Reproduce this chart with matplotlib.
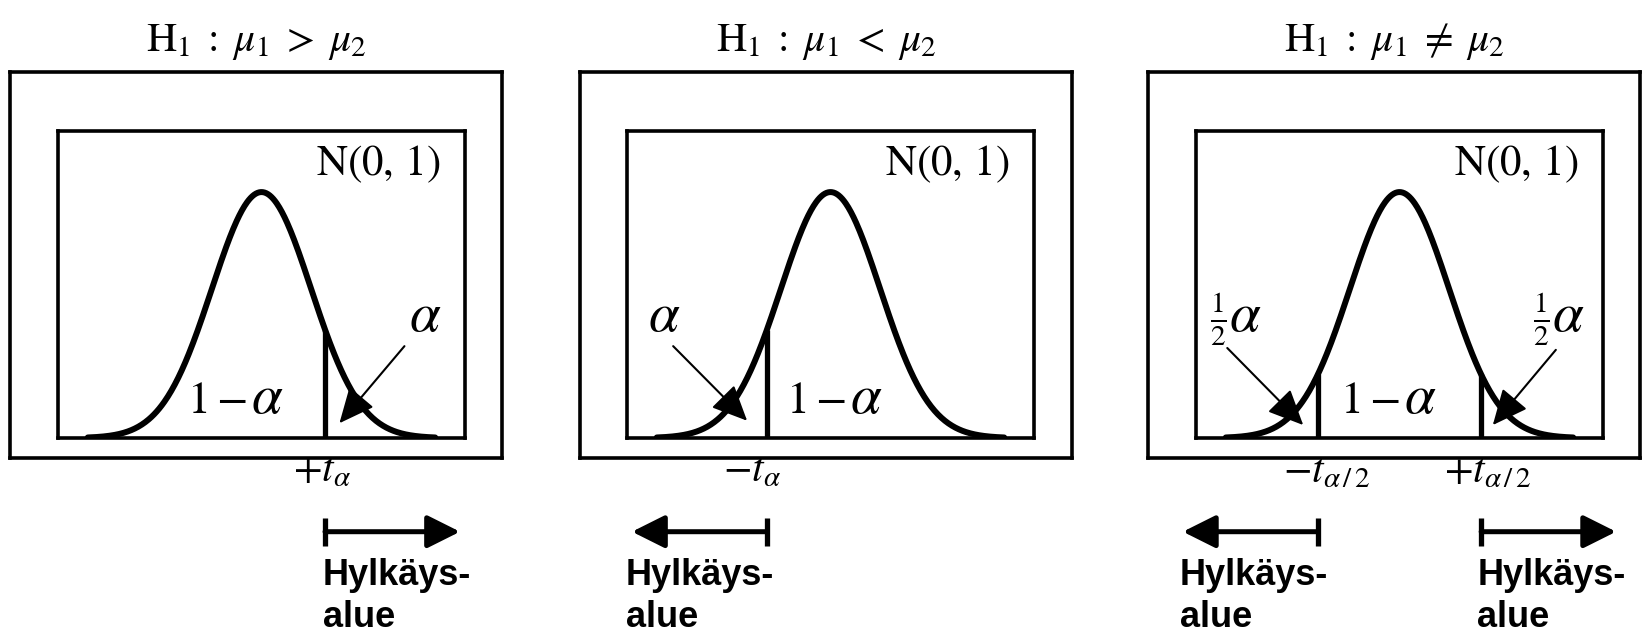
import numpy as np
import matplotlib.pyplot as plt

plt.rcParams['mathtext.fontset'] = 'stix'
plt.rcParams['font.family'] = ['Liberation Serif', 'DejaVu Serif']

titles = [r'$\mathrm{H}_1\;:\;\mu_1\;>\;\mu_2$',
          r'$\mathrm{H}_1\;:\;\mu_1\;<\;\mu_2$',
          r'$\mathrm{H}_1\;:\;\mu_1\;\neq\;\mu_2$']
dist_label = r'$\mathrm{N}(0,\,1)$'
center_label = r'$1-$'
alpha_label = r'$\alpha$'
reject_lines = ['Hylkäys-', 'alue']

# critical values (alpha = 0.10)
cut_points = [[1.28], [-1.28], [-1.645, 1.645]]
cut_labels = [[r'$+t_\alpha$'], [r'$-t_\alpha$'],
              [r'$-t_{\alpha\,/\,2}$', r'$+t_{\alpha\,/\,2}$']]
tail_prefix = [[''], [''], [r'$\frac{1}{2}$', r'$\frac{1}{2}$']]

# standard normal density N(0,1)
z = np.linspace(-3.5, 3.5, 400)
pdf = np.exp(-z ** 2 / 2) / np.sqrt(2 * np.pi)

W, H = 1643, 639
fig = plt.figure(figsize=(W / 100, H / 100), dpi=100)

outer_left = [10, 580, 1148]
inner_left = [58, 627, 1196]

# annotation layout per panel (x in sigma units, y in density units)
layout = [
    dict(center_x=-0.22,
         cut_text_x=[1.21],
         tail_text=[(3.3, 0.196)],
         tail_arrow=[((2.88, 0.149), (1.57, 0.024))],
         reject=[(1.28, 1)],
         reject_text_x=[1.24]),
    dict(center_x=0.40,
         cut_text_x=[-1.59],
         tail_text=[(-3.35, 0.196)],
         tail_arrow=[((-3.17, 0.149), (-1.68, 0.028))],
         reject=[(-1.28, -1)],
         reject_text_x=[-4.13]),
    dict(center_x=0.10,
         cut_text_x=[-1.47, 1.77],
         tail_text=[(-3.43, 0.196), (3.08, 0.196)],
         tail_arrow=[((-3.47, 0.146), (-1.94, 0.021)),
                     ((3.15, 0.143), (1.88, 0.021))],
         reject=[(-1.645, -1), (1.645, 1)],
         reject_text_x=[-4.42, 1.57]),
]

arrow_len = 2.72
arrow_y = -0.152
for i in range(3):
    lay = layout[i]
    # outer frame
    axo = fig.add_axes([outer_left[i] / W, 1 - 458 / H, 492 / W, (458 - 72) / H])
    axo.set_xticks([])
    axo.set_yticks([])
    for s in axo.spines.values():
        s.set_linewidth(2.6)
    axo.patch.set_alpha(0)
    fig.text((outer_left[i] + 246) / W, 1 - 51 / H, titles[i],
             ha='center', va='baseline', fontsize=30)

    # inner plot
    ax = fig.add_axes([inner_left[i] / W, 1 - 438 / H, 407 / W, 307 / H])
    ax.set_xlim(-4.1, 4.1)
    ax.set_ylim(0, 0.498)
    ax.set_xticks([])
    ax.set_yticks([])
    for s in ax.spines.values():
        s.set_linewidth(2.6)
    ax.patch.set_alpha(0)

    ax.plot(z, pdf, color='black', lw=4.3, solid_capstyle='round')
    ax.text(0.94, 0.89, dist_label, transform=ax.transAxes,
            ha='right', va='center', fontsize=31)
    ax.text(lay['center_x'] - 0.08, 0.041, center_label, ha='right',
            va='baseline', fontsize=33)
    ax.text(lay['center_x'], 0.041, alpha_label, ha='left',
            va='baseline', fontsize=40)

    for j, c in enumerate(cut_points[i]):
        h = np.exp(-c ** 2 / 2) / np.sqrt(2 * np.pi)
        ax.plot([c, c], [0, h], color='black', lw=3.8, solid_capstyle='butt')
        ax.text(lay['cut_text_x'][j], -0.07, cut_labels[i][j], ha='center',
                va='baseline', fontsize=30, clip_on=False)
        tx, ty = lay['tail_text'][j]
        if tail_prefix[i][j]:
            ax.text(tx - 0.05, ty - 0.004, tail_prefix[i][j], ha='right',
                    va='center', fontsize=30)
            ax.text(tx, ty, alpha_label, ha='left', va='center', fontsize=40)
        else:
            ax.text(tx, ty, alpha_label, ha='center', va='center', fontsize=40)
        (ax0, ay0), (ax1, ay1) = lay['tail_arrow'][j]
        ax.annotate('', xy=(ax1, ay1), xytext=(ax0, ay0),
                    arrowprops=dict(arrowstyle='-|>,head_length=1.1,head_width=0.5',
                                    color='black', lw=1.5, mutation_scale=20,
                                    shrinkA=0, shrinkB=0))

        # rejection region arrow below
        start, direction = lay['reject'][j]
        end = start + direction * arrow_len
        ax.annotate('', xy=(end, arrow_y), xytext=(start, arrow_y),
                    arrowprops=dict(arrowstyle='-|>,head_length=1.0,head_width=0.5',
                                    color='black', lw=3.6, mutation_scale=20,
                                    shrinkA=0, shrinkB=0),
                    annotation_clip=False)
        ax.plot([start, start], [arrow_y + 0.023, arrow_y - 0.023], color='black',
                lw=3.8, solid_capstyle='butt', clip_on=False)
        for k, line in enumerate(reject_lines):
            ax.text(lay['reject_text_x'][j], -0.238 - 0.069 * k, line, ha='left',
                    va='baseline', fontsize=26, fontweight='bold',
                    family='Liberation Sans', clip_on=False)

fig.savefig('out.png', dpi=100)
